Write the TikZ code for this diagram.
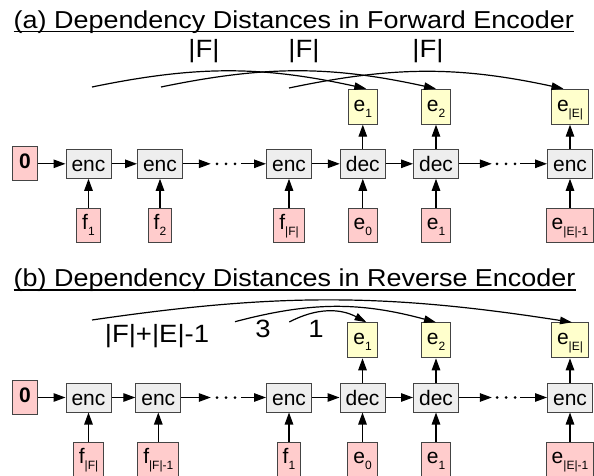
\documentclass[tikz,border=0pt]{standalone}
\usepackage{fontspec}
\setmainfont{Liberation Sans}
\newfontfamily\widefont[FakeStretch=1.1]{Liberation Sans}
\usetikzlibrary{arrows.meta}
\definecolor{pinkfill}{HTML}{FFCCCC}
\definecolor{yellowfill}{HTML}{FFFFCC}
\definecolor{grayfill}{HTML}{EEEEEE}
\definecolor{boxline}{HTML}{444444}
\newcommand{\lowsub}[1]{\raisebox{-6pt}{\fontsize{12}{12}\selectfont #1}}
\begin{document}
\begin{tikzpicture}[x=1pt, y=-1pt,
  box/.style={draw=boxline, line width=1pt, inner xsep=5.5pt, inner ysep=0pt, font=\fontsize{21}{21}\selectfont},
  cell/.style={box, fill=grayfill, minimum width=45pt, minimum height=29pt, text height=15pt, text depth=0pt, inner xsep=5pt},
  inbox/.style={box, fill=pinkfill, minimum height=34pt, text height=9pt, text depth=0pt},
  outbox/.style={box, fill=yellowfill, minimum height=35pt, text height=9pt, text depth=0pt},
  zerobox/.style={box, fill=pinkfill, minimum width=25pt, minimum height=34pt, text height=9pt, text depth=0pt, font=\fontsize{21}{21}\selectfont\bfseries},
  dotsnode/.style={inner sep=0pt, minimum height=3pt, minimum width=#1},
  conn/.style={line width=1.2pt, -{Triangle[length=12pt,width=8.5pt]}},
  arc/.style={line width=1.2pt, -{Triangle[length=12pt,width=7.5pt]}},
  title/.style={anchor=base west, inner sep=0pt, font=\widefont\fontsize{24.5}{24.5}\selectfont},
  dist/.style={inner sep=0pt, font=\widefont\fontsize{25}{25}\selectfont},
]
\path[use as bounding box, fill=white] (0,0) rectangle (594,476);

% ---------------- panel (a)
\node[title] (ta) at (13.5,28.3) {(a) Dependency Distances in Forward Encoder};
\draw[line width=1.3pt] ([yshift=-3.4pt]ta.base west) -- ([yshift=-3.4pt]ta.base east);

\node[zerobox] (za) at (25,163.8) {0};
\node[cell] (a1) at (88.5,163.8) {enc};
\node[cell] (a2) at (160,163.8) {enc};
\node[dotsnode=30pt] (ad1) at (226,163.8) {};
\node[cell] (a3) at (289,163.8) {enc};
\node[cell] (a4) at (362.8,163.8) {dec};
\node[cell] (a5) at (436,163.8) {dec};
\node[dotsnode=28pt] (ad2) at (506,163.8) {};
\node[cell] (a6) at (570,163.8) {enc};

\node[inbox] (ia1) at (88.5,225) {f\lowsub{1}};
\node[inbox] (ia2) at (160,225) {f\lowsub{2}};
\node[inbox] (ia3) at (289,225) {f\lowsub{|F|}};
\node[inbox] (ia4) at (362.8,225) {e\lowsub{0}};
\node[inbox] (ia5) at (436,225) {e\lowsub{1}};
\node[inbox] (ia6) at (570,225) {e\lowsub{|E|-1}};

\node[outbox] (oa4) at (362.8,106.7) {e\lowsub{1}};
\node[outbox] (oa5) at (436,106.7) {e\lowsub{2}};
\node[outbox] (oa6) at (570,106.7) {e\lowsub{|E|}};

\foreach \n in {ad1,ad2} \foreach \dx in {-9,0,9} \fill ([xshift=\dx pt]\n.center) circle (1.5pt);

\draw[conn] (za) -- (a1);
\draw[conn] (a1) -- (a2);
\draw[conn] (a2) -- (ad1);
\draw[conn] (ad1) -- (a3);
\draw[conn] (a3) -- (a4);
\draw[conn] (a4) -- (a5);
\draw[conn] (a5) -- (ad2);
\draw[conn] (ad2) -- (a6);
\foreach \i in {1,...,6} \draw[conn] (ia\i) -- (a\i);
\foreach \i in {4,5,6} \draw[conn] (a\i) -- (oa\i);

\coordinate (sa1) at (92,87);
\coordinate (sa2) at (161,87);
\coordinate (sa3) at (289,88);
\draw[arc] (sa1) to[bend left=12] ([xshift=3.5pt]oa4.north);
\draw[arc] (sa2) to[bend left=12] (oa5.north);
\draw[arc] (sa3) to[bend left=12] ([xshift=-6.5pt]oa6.north);

\node[dist] (la1) at (204,51) {|F|};
\node[dist] (la2) at (304,51) {|F|};
\node[dist] (la3) at (428,51) {|F|};

% ---------------- panel (b)
\node[title] (tb) at (13.5,286.7) {(b) Dependency Distances in Reverse Encoder};
\draw[line width=1.3pt] ([yshift=-3.4pt]tb.base west) -- ([yshift=-3.4pt]tb.base east);

\node[zerobox] (zb) at (25,397.5) {0};
\node[cell] (b1) at (88.5,397.5) {enc};
\node[cell] (b2) at (158.3,397.5) {enc};
\node[dotsnode=30pt] (bd1) at (226,397.5) {};
\node[cell] (b3) at (289,397.5) {enc};
\node[cell] (b4) at (362.5,397.5) {dec};
\node[cell] (b5) at (436,397.5) {dec};
\node[dotsnode=28pt] (bd2) at (506,397.5) {};
\node[cell] (b6) at (570,397.5) {enc};

\node[inbox] (ib1) at (88.5,459) {f\lowsub{|F|}};
\node[inbox] (ib2) at (158.3,459) {f\lowsub{|F|-1}};
\node[inbox] (ib3) at (289,459) {f\lowsub{1}};
\node[inbox] (ib4) at (362.5,459) {e\lowsub{0}};
\node[inbox] (ib5) at (436,459) {e\lowsub{1}};
\node[inbox] (ib6) at (570,459) {e\lowsub{|E|-1}};

\node[outbox] (ob4) at (362.5,340.3) {e\lowsub{1}};
\node[outbox] (ob5) at (436,340.3) {e\lowsub{2}};
\node[outbox] (ob6) at (570,340.3) {e\lowsub{|E|}};

\foreach \n in {bd1,bd2} \foreach \dx in {-9,0,9} \fill ([xshift=\dx pt]\n.center) circle (1.5pt);

\draw[conn] (zb) -- (b1);
\draw[conn] (b1) -- (b2);
\draw[conn] (b2) -- (bd1);
\draw[conn] (bd1) -- (b3);
\draw[conn] (b3) -- (b4);
\draw[conn] (b4) -- (b5);
\draw[conn] (b5) -- (bd2);
\draw[conn] (bd2) -- (b6);
\foreach \i in {1,...,6} \draw[conn] (ib\i) -- (b\i);
\foreach \i in {4,5,6} \draw[conn] (b\i) -- (ob\i);

\coordinate (sb1) at (92,320);
\coordinate (sb2) at (235,321.7);
\coordinate (sb3) at (289.3,322);
\draw[arc] (sb1) to[bend left=8.6] ([xshift=2pt]ob6.north);
\draw[arc] (sb2) to[bend left=15] (ob5.north);
\draw[arc] (sb3) to[bend left=28] ([xshift=4pt]ob4.north);

\node[dist] (lb1) at (157,336.5) {|F|+|E|-1};
\node[dist] (lb2) at (263,328.5) {3};
\node[dist] (lb3) at (316,328.5) {1};
\end{tikzpicture}
\end{document}
